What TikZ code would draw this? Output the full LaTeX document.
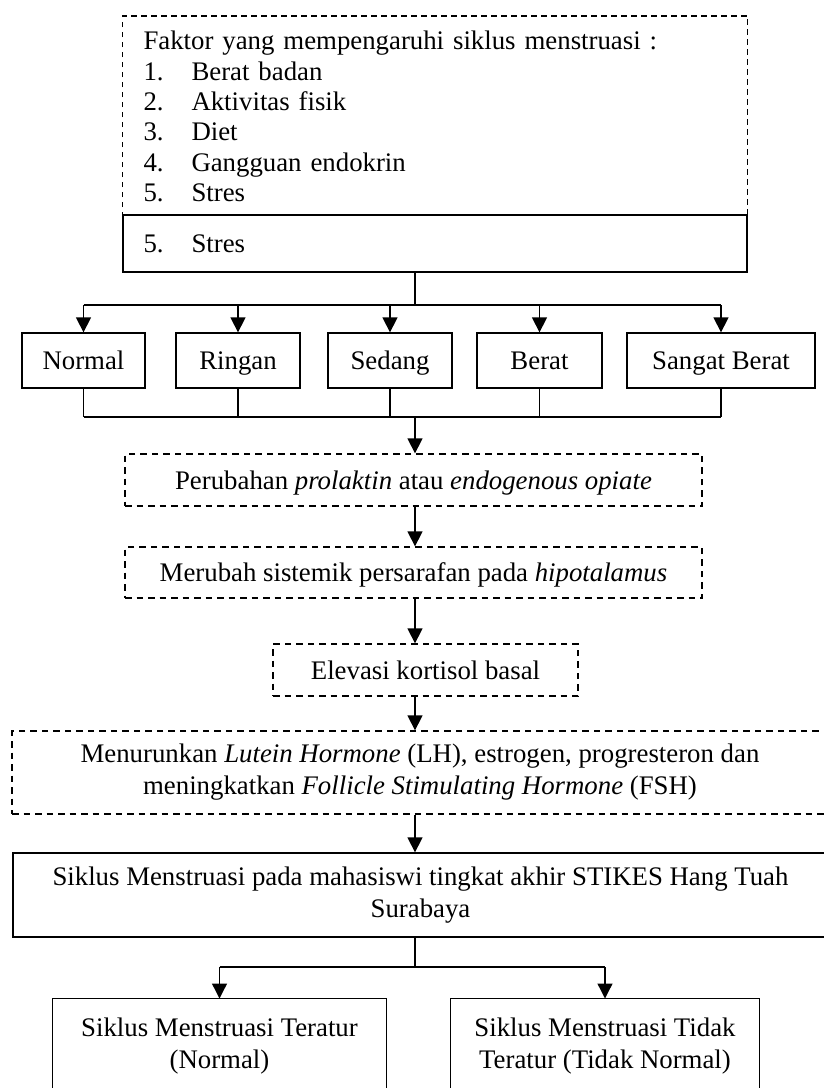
\documentclass[tikz,border=0pt]{standalone}
\usepackage{fontspec}
\setmainfont{Liberation Serif}
\usetikzlibrary{arrows.meta,calc}
\newcommand\diafont{\fontsize{26.8}{32}\selectfont}
\newcommand\listfont{\fontsize{26.8}{30.4}\selectfont}
\begin{document}
\begin{tikzpicture}[x=1pt,y=-1pt,
  ln/.style={line width=1.3pt},
  dsh/.style={line width=1.3pt, dash pattern=on 5.5pt off 4.5pt},
  box/.style={draw, line width=1.3pt, inner sep=0pt, align=center, font=\diafont},
  one/.style={text height=18pt, text depth=0pt},
  dbox/.style={box, dash pattern=on 6.5pt off 5pt},
  arr/.style={line width=1.3pt, -{Triangle[length=15pt,width=15pt]}}]
\useasboundingbox (0,0) rectangle (824,1088);

% top block
\node[box, draw=none, minimum width=624pt, minimum height=200pt, text width=583pt, align=left, font=\listfont] (factbox) at (435,116.5)
 {Faktor yang mempengaruhi siklus menstruasi :\\
  \makebox[48pt][l]{1.}Berat badan\\
  \makebox[48pt][l]{2.}Aktivitas fisik\\
  \makebox[48pt][l]{3.}Diet\\
  \makebox[48pt][l]{4.}Gangguan endokrin\\
  \makebox[48pt][l]{5.}Stres};
\draw[dsh] (factbox.south west) -- (factbox.north west) -- (factbox.north east) -- (factbox.south east);
\node[box, one, minimum width=624pt, minimum height=57pt, text width=583pt, align=left] (stres) at (435,243.5)
 {\makebox[48pt][l]{5.}Stres};

% stress levels
\node[box, one, minimum width=123pt, minimum height=55pt] (normal) at (83.5,360.5) {Normal};
\node[box, one, minimum width=124pt, minimum height=55pt] (ringan) at (238,360.5) {Ringan};
\node[box, one, minimum width=124pt, minimum height=55pt] (sedang) at (390,360.5) {Sedang};
\node[box, one, minimum width=125pt, minimum height=55pt] (berat) at (539.5,360.5) {Berat};
\node[box, one, minimum width=188pt, minimum height=55pt] (sangat) at (721,360.5) {Sangat Berat};

\coordinate (b1) at (415,305);
\draw[ln] (stres.south -| b1) -- (b1);
\draw[ln] (normal.north |- b1) -- (sangat.north |- b1);
\foreach \n in {normal,ringan,sedang,berat,sangat}
  \draw[arr] (\n.north |- b1) -- (\n.north);

\coordinate (j1) at (415,417);
\draw[ln] (normal.south |- j1) -- (sangat.south |- j1);
\foreach \n in {normal,ringan,sedang,berat,sangat}
  \draw[ln] (\n.south) -- (\n.south |- j1);

% chain
\node[dbox, one, minimum width=577pt, minimum height=52pt] (perubahan) at (413.5,480)
 {Perubahan \textit{prolaktin} atau \textit{endogenous opiate}};
\node[dbox, one, minimum width=577pt, minimum height=51pt] (merubah) at (413.5,572.5)
 {Merubah sistemik persarafan pada \textit{hipotalamus}};
\node[dbox, one, minimum width=305pt, minimum height=52pt] (elevasi) at (425.5,670)
 {Elevasi kortisol basal};
\node[dbox, minimum width=816pt, minimum height=83pt] (menurun) at (420,772.5)
 {Menurunkan \textit{Lutein Hormone} (LH), estrogen, progresteron dan\\
  meningkatkan \textit{Follicle Stimulating Hormone} (FSH)};
\node[box, minimum width=815pt, minimum height=84pt] (siklus) at (420.5,895)
 {Siklus Menstruasi pada mahasiswi tingkat akhir STIKES Hang Tuah\\Surabaya};

\draw[arr] (j1) -- (perubahan.north -| j1);
\draw[arr] (perubahan.south -| j1) -- (merubah.north -| j1);
\draw[arr] (merubah.south -| j1) -- (elevasi.north -| j1);
\draw[arr] (elevasi.south -| j1) -- (menurun.north -| j1);
\draw[arr] (menurun.south -| j1) -- (siklus.north -| j1);

% outcomes
\node[box, draw=none, anchor=north, minimum width=333pt, minimum height=94pt] (teratur) at (219.5,998.5)
 {Siklus Menstruasi Teratur\\(Normal)};
\node[box, draw=none, anchor=north, minimum width=308pt, minimum height=94pt] (tidak) at (605,998.5)
 {Siklus Menstruasi Tidak\\Teratur (Tidak Normal)};
\draw[ln] (teratur.south west) -- (teratur.north west) -- (teratur.north east) -- (teratur.south east);
\draw[ln] (tidak.south west) -- (tidak.north west) -- (tidak.north east) -- (tidak.south east);

\coordinate (b2) at (415,967);
\draw[ln] (siklus.south -| b2) -- (b2);
\draw[ln] (teratur.north |- b2) -- (tidak.north |- b2);
\draw[arr] (teratur.north |- b2) -- (teratur.north);
\draw[arr] (tidak.north |- b2) -- (tidak.north);
\end{tikzpicture}
\end{document}
